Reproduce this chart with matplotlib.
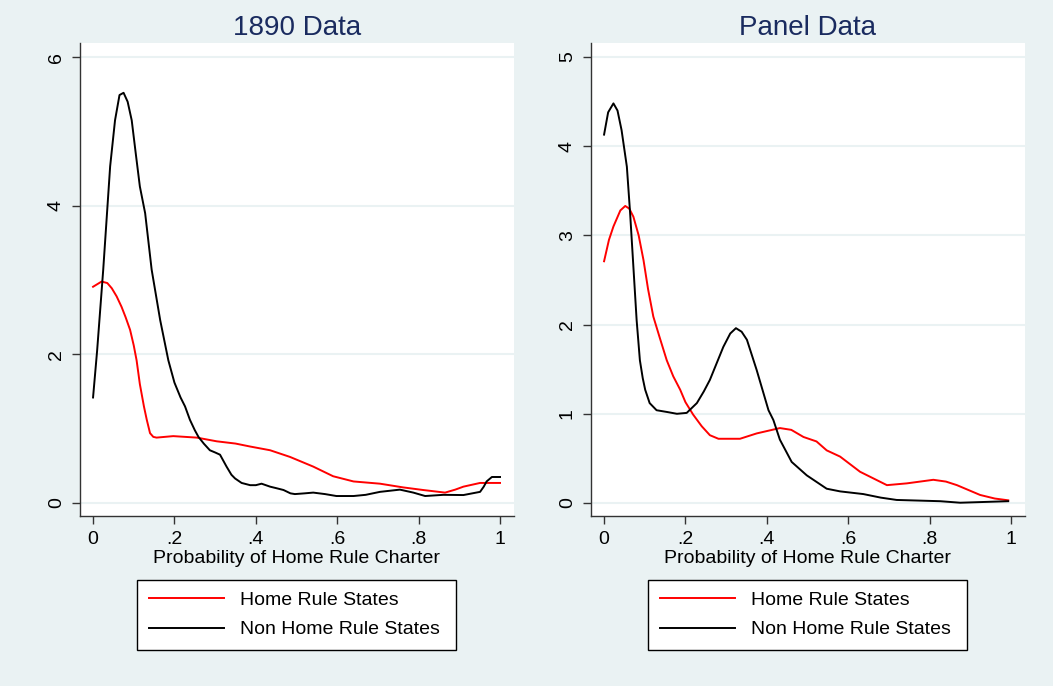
import matplotlib.pyplot as plt

plt.rcParams['font.family'] = ['Liberation Sans', 'DejaVu Sans']

# 1890 data
x_home_1890 = [0, 0.021, 0.035, 0.046, 0.058, 0.07, 0.08, 0.091, 0.1, 0.107, 0.115, 0.125, 0.132,
               0.14, 0.148, 0.156, 0.197, 0.255, 0.304, 0.35, 0.386, 0.435, 0.484, 0.541, 0.59,
               0.64, 0.705, 0.762, 0.811, 0.865, 0.89, 0.91, 0.951, 1.0]
y_home_1890 = [2.91, 2.98, 2.96, 2.89, 2.78, 2.64, 2.5, 2.33, 2.12, 1.92, 1.6, 1.3, 1.12,
               0.94, 0.89, 0.88, 0.90, 0.88, 0.83, 0.8, 0.76, 0.71, 0.62, 0.49, 0.36,
               0.29, 0.26, 0.21, 0.175, 0.14, 0.18, 0.22, 0.27, 0.27]
x_non_1890 = [0, 0.01, 0.025, 0.042, 0.054, 0.065, 0.075, 0.085, 0.095, 0.105, 0.115, 0.128, 0.144,
              0.165, 0.185, 0.2, 0.215, 0.226, 0.238, 0.25, 0.259, 0.272, 0.287, 0.3, 0.312,
              0.328, 0.34, 0.349, 0.365, 0.386, 0.4, 0.414, 0.435, 0.45, 0.468, 0.485, 0.496,
              0.52, 0.541, 0.57, 0.598, 0.64, 0.67, 0.705, 0.754, 0.787, 0.816, 0.861, 0.91,
              0.951, 0.96, 0.967, 0.98, 1.0]
y_non_1890 = [1.42, 2.05, 3.14, 4.53, 5.15, 5.49, 5.52, 5.40, 5.15, 4.7, 4.26, 3.9, 3.14,
              2.46, 1.92, 1.62, 1.42, 1.3, 1.12, 0.98, 0.89, 0.8, 0.71, 0.68, 0.65,
              0.49, 0.38, 0.33, 0.27, 0.24, 0.24, 0.26, 0.22, 0.2, 0.175, 0.13, 0.12,
              0.13, 0.14, 0.12, 0.094, 0.094, 0.11, 0.15, 0.18, 0.14, 0.094, 0.11, 0.107,
              0.15, 0.22, 0.29, 0.35, 0.35]

# panel data
x_home_panel = [0, 0.012, 0.023, 0.04, 0.052, 0.062, 0.072, 0.085, 0.097, 0.108, 0.121, 0.137,
                0.154, 0.17, 0.187, 0.2, 0.219, 0.24, 0.26, 0.281, 0.334, 0.375, 0.432, 0.46,
                0.49, 0.522, 0.547, 0.58, 0.629, 0.695, 0.744, 0.809, 0.84, 0.867, 0.924,
                0.96, 0.993]
y_home_panel = [2.71, 2.95, 3.10, 3.28, 3.33, 3.3, 3.21, 3.0, 2.72, 2.4, 2.09, 1.85,
                1.60, 1.42, 1.27, 1.13, 0.99, 0.86, 0.76, 0.72, 0.72, 0.78, 0.84, 0.82,
                0.74, 0.69, 0.59, 0.52, 0.35, 0.20, 0.22, 0.26, 0.24, 0.20, 0.09,
                0.05, 0.03]
x_non_panel = [0, 0.01, 0.023, 0.033, 0.043, 0.056, 0.064, 0.072, 0.08, 0.088, 0.095, 0.101,
               0.112, 0.129, 0.155, 0.179, 0.203, 0.228, 0.245, 0.26, 0.293, 0.31, 0.324,
               0.338, 0.351, 0.375, 0.404, 0.416, 0.432, 0.461, 0.498, 0.547, 0.58, 0.637,
               0.68, 0.719, 0.826, 0.875, 0.924, 0.993]
y_non_panel = [4.13, 4.38, 4.48, 4.4, 4.18, 3.77, 3.25, 2.65, 2.05, 1.6, 1.4, 1.27,
               1.12, 1.04, 1.02, 1.0, 1.01, 1.12, 1.25, 1.38, 1.75, 1.9, 1.96,
               1.92, 1.83, 1.49, 1.04, 0.93, 0.71, 0.46, 0.31, 0.16, 0.13, 0.10,
               0.06, 0.034, 0.02, 0.003, 0.01, 0.02]

x_ticks = [0, 0.2, 0.4, 0.6, 0.8, 1]
x_tick_labels = ['0', '.2', '.4', '.6', '.8', '1']

bg = '#EAF2F3'
fig = plt.figure(figsize=(10.53, 6.86), dpi=100, facecolor=bg)

panels = [
    ('1890 Data', x_home_1890, y_home_1890, x_non_1890, y_non_1890,
     [0, 2, 4, 6], (-0.175, 6.19), 0.076),
    ('Panel Data', x_home_panel, y_home_panel, x_non_panel, y_non_panel,
     [0, 1, 2, 3, 4, 5], (-0.146, 5.157), 0.5613),
]

for title, xh, yh, xn, yn, yticks, ylim, left in panels:
    ax = fig.add_axes([left, 0.2478, 0.412, 0.6895])
    ax.set_facecolor('white')
    for yt in yticks:
        ax.axhline(yt, color=bg, lw=1.5, zorder=0)
    ax.plot(xh, yh, color='red', lw=1.4, label='Home Rule States')
    ax.plot(xn, yn, color='black', lw=1.4, label='Non Home Rule States ')
    ax.set_xlim(-0.032, 1.034)
    ax.set_ylim(*ylim)
    ax.set_xticks(x_ticks)
    ax.set_xticklabels(x_tick_labels)
    ax.set_yticks(yticks)
    ax.set_yticklabels([str(v) for v in yticks], rotation=90, va='center')
    ax.tick_params(labelsize=14, length=6, width=1, color='#333333', pad=5)
    for s in ['top', 'right']:
        ax.spines[s].set_visible(False)
    for s in ['left', 'bottom']:
        ax.spines[s].set_color('#333333')
        ax.spines[s].set_linewidth(1)
    ax.set_xlabel('Probability of Home Rule Charter', fontsize=14, labelpad=1)
    ax.set_title(title, fontsize=20, color='#1a2b5f', pad=6)
    leg = ax.legend(loc='upper center', bbox_to_anchor=(0.5, -0.135), fontsize=14,
                    handlelength=3.85, handletextpad=0.8, borderpad=0.6, labelspacing=0.6,
                    fancybox=False, framealpha=1, edgecolor='black', borderaxespad=0)
    leg.get_frame().set_linewidth(1)

fig.savefig('out.png', dpi=100, facecolor=bg)
